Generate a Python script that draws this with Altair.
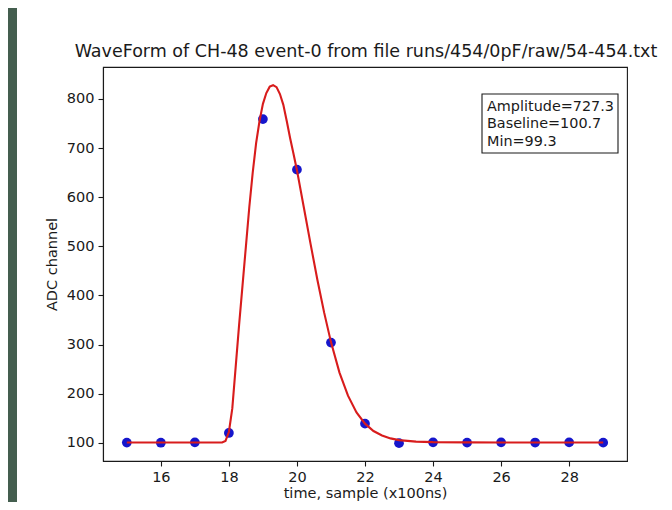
import altair as alt
import pandas as pd

# ---- data ----
sample_t = [15, 16, 17, 18, 19, 20, 21, 22, 23, 24, 25, 26, 27, 28, 29]
adc_values = [100.5, 100.2, 101.0, 120.0, 759.0, 656.0, 304.0, 139.0, 99.3,
              101.0, 100.4, 101.0, 100.6, 100.9, 100.3]

fit_t = [15.0, 16.0, 17.0, 17.7, 17.8, 17.9, 18.0, 18.1, 18.2, 18.3, 18.4,
         18.5, 18.6, 18.7, 18.8, 18.9, 19.0, 19.1, 19.2, 19.3, 19.4, 19.5,
         19.6, 19.7, 19.8, 19.9, 20.0, 20.2, 20.4, 20.6, 20.8, 21.0, 21.25,
         21.5, 21.75, 22.0, 22.25, 22.5, 22.75, 23.0, 23.5, 24.0, 25.0, 26.0,
         27.0, 28.0, 29.0]
fit_v = [100.7, 100.7, 100.7, 100.7, 100.7, 104.0, 122.0, 170.0, 255.0,
         340.0, 420.0, 500.0, 580.0, 650.0, 710.0, 755.0, 790.0, 812.0,
         825.0, 828.0, 824.0, 810.0, 788.0, 755.0, 720.0, 688.0, 655.0,
         580.0, 505.0, 432.0, 365.0, 305.0, 243.0, 196.0, 162.0, 139.0,
         124.0, 115.0, 109.0, 105.5, 102.5, 101.4, 100.9, 100.8, 100.7,
         100.7, 100.7]

x_ticks = [16, 18, 20, 22, 24, 26, 28]
y_ticks = [100, 200, 300, 400, 500, 600, 700, 800]
stats_lines = ["Amplitude=727.3", "Baseline=100.7", "Min=99.3"]
title_text = "WaveForm of CH-48 event-0 from file runs/454/0pF/raw/54-454.txt"
x_title = "time, sample (x100ns)"
y_title = "ADC channel"

FONT = "DejaVu Sans"
W, H = 524, 394

pts = pd.DataFrame({"t": sample_t, "adc": adc_values})
fit = pd.DataFrame({"t": fit_t, "adc": fit_v})
one = pd.DataFrame({"k": [0]})

xscale = alt.Scale(domain=[14.3, 29.7], nice=False, zero=False)
yscale = alt.Scale(domain=[63, 865], nice=False, zero=False)

xaxis = alt.Axis(values=x_ticks, format="d", title=x_title, grid=False,
                 tickSize=5, tickWidth=1.1, tickColor="#1a1a1a",
                 domainColor="#1a1a1a", domainWidth=1.1,
                 labelFont=FONT, labelFontSize=14.5, labelColor="#1a1a1a",
                 labelPadding=4, titleFont=FONT, titleFontSize=14.5,
                 titleFontWeight="normal", titleColor="#1a1a1a",
                 titleX=W / 2, titleY=36, titleAlign="center",
                 titleBaseline="alphabetic")
yaxis = alt.Axis(values=y_ticks, format="d", title=y_title, grid=False,
                 tickSize=5, tickWidth=1.1, tickColor="#1a1a1a",
                 domainColor="#1a1a1a", domainWidth=1.1,
                 labelFont=FONT, labelFontSize=14.5, labelColor="#1a1a1a",
                 labelPadding=4, titleFont=FONT, titleFontSize=14.5,
                 titleFontWeight="normal", titleColor="#1a1a1a",
                 titleAngle=270, titleX=-47, titleY=H / 2,
                 titleAlign="center", titleBaseline="alphabetic")

strip = alt.Chart(one).mark_rect(color="#445e4f").encode(
    x=alt.value(-95), x2=alt.value(-86), y=alt.value(-59), y2=alt.value(H + 41)
)

points = alt.Chart(pts).mark_circle(size=95, color="#1616cc", opacity=1).encode(
    x=alt.X("t:Q", scale=xscale, axis=xaxis),
    y=alt.Y("adc:Q", scale=yscale, axis=yaxis),
)

line = alt.Chart(fit).mark_line(color="#d81c1c", strokeWidth=2.1).encode(
    x=alt.X("t:Q", scale=xscale),
    y=alt.Y("adc:Q", scale=yscale),
)

box = alt.Chart(one).mark_rect(fill="white", stroke="#1a1a1a", strokeWidth=1.1).encode(
    x=alt.value(379), x2=alt.value(515), y=alt.value(27), y2=alt.value(86)
)

box_text = alt.Chart(one).mark_text(
    align="left", baseline="top", lineBreak="\n", lineHeight=17.3,
    fontSize=14.4, font=FONT, color="#1a1a1a"
).encode(x=alt.value(384), y=alt.value(33), text=alt.value("\n".join(stats_lines)))

title = alt.Chart(one).mark_text(
    align="center", baseline="alphabetic", fontSize=17.5, font=FONT,
    color="#1a1a1a"
).encode(x=alt.value(W / 2 + 1), y=alt.value(-10), text=alt.value(title_text))

chart = alt.layer(strip, points, line, box, box_text, title).properties(
    width=W, height=H,
    autosize=alt.AutoSizeParams(type="none"),
    padding={"left": 95, "top": 59, "right": 37, "bottom": 41},
    background="white",
).configure_view(stroke="#1a1a1a", strokeWidth=1.1)

chart.save("out.html", embed_options={"renderer": "svg", "actions": False})
